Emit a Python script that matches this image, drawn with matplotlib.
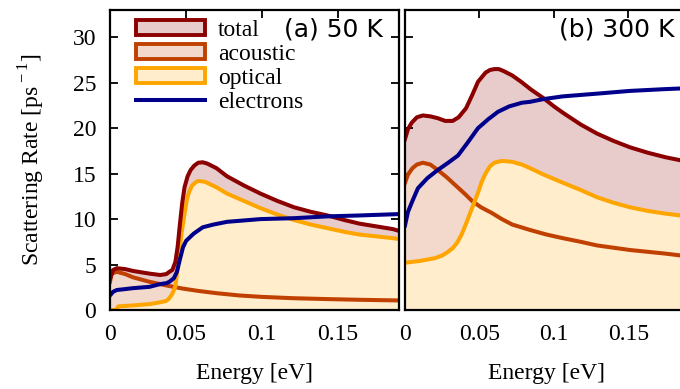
import matplotlib
matplotlib.use("Agg")
import matplotlib.pyplot as plt
from matplotlib.patches import Patch
from matplotlib.lines import Line2D

# ── data ──────────────────────────────────────────────────────────────────────
# (a) 50 K
a_total_x = [0, 0.002, 0.0045, 0.01, 0.015, 0.026, 0.033, 0.037, 0.039, 0.041, 0.043,
             0.0445, 0.046, 0.0475, 0.049, 0.051, 0.053, 0.0555, 0.058, 0.061, 0.064,
             0.07, 0.077, 0.088, 0.099, 0.11, 0.121, 0.132, 0.143, 0.154, 0.164,
             0.175, 0.186, 0.19]
a_total_y = [3.4, 4.4, 4.6, 4.5, 4.3, 4.0, 3.85, 3.95, 4.2, 4.4, 5.3,
             7.0, 9.5, 11.8, 13.5, 14.7, 15.4, 15.9, 16.2, 16.25, 16.1,
             15.6, 14.7, 13.7, 12.8, 12.0, 11.3, 10.8, 10.4, 9.9, 9.5,
             9.2, 8.9, 8.7]

a_opt_x = [0, 0.004, 0.0055, 0.01, 0.015, 0.026, 0.033, 0.037, 0.039, 0.041, 0.043,
           0.044, 0.0455, 0.047, 0.049, 0.0505, 0.052, 0.054, 0.056, 0.058, 0.0625,
           0.07, 0.077, 0.088, 0.099, 0.11, 0.121, 0.132, 0.143, 0.154, 0.164,
           0.175, 0.186, 0.19]
a_opt_y = [0, 0, 0.4, 0.45, 0.5, 0.65, 0.85, 1.0, 1.3, 1.8, 2.6,
           4.0, 6.3, 8.4, 10.6, 12.1, 13.0, 13.7, 14.0, 14.2, 14.1,
           13.5, 12.8, 12.0, 11.2, 10.5, 9.9, 9.4, 9.0, 8.6, 8.3,
           8.1, 7.9, 7.8]

a_ac_x = [0, 0.001, 0.0045, 0.01, 0.015, 0.026, 0.037, 0.048, 0.058, 0.07, 0.085,
          0.099, 0.12, 0.143, 0.165, 0.19]
a_ac_y = [3.1, 4.0, 4.2, 3.95, 3.6, 3.1, 2.7, 2.35, 2.1, 1.85, 1.6,
          1.45, 1.3, 1.2, 1.12, 1.05]

a_el_x = [0, 0.002, 0.0045, 0.01, 0.015, 0.026, 0.033, 0.037, 0.039, 0.042, 0.044,
          0.046, 0.048, 0.05, 0.055, 0.061, 0.068, 0.077, 0.088, 0.099, 0.121,
          0.143, 0.164, 0.19]
a_el_y = [1.6, 2.0, 2.2, 2.3, 2.4, 2.55, 2.85, 2.95, 3.1, 3.5, 4.2,
          5.6, 6.9, 7.6, 8.4, 9.1, 9.4, 9.7, 9.85, 10.0, 10.1,
          10.3, 10.4, 10.55]

# (b) 300 K
b_total_x = [0, 0.002, 0.0045, 0.008, 0.012, 0.017, 0.022, 0.027, 0.032, 0.036, 0.041,
             0.045, 0.049, 0.054, 0.057, 0.06, 0.063, 0.066, 0.072, 0.078, 0.085,
             0.093, 0.1, 0.106, 0.118, 0.129, 0.14, 0.151, 0.163, 0.175, 0.19]
b_total_y = [18.8, 19.9, 20.6, 21.2, 21.4, 21.3, 21.1, 20.8, 20.8, 21.2, 22.2,
             23.6, 25.1, 26.1, 26.4, 26.5, 26.5, 26.3, 25.8, 25.1, 24.2,
             23.3, 22.4, 21.7, 20.4, 19.4, 18.6, 17.9, 17.3, 16.8, 16.3]

b_opt_x = [0, 0.01, 0.02, 0.025, 0.028, 0.032, 0.035, 0.038, 0.041, 0.045, 0.049,
           0.0515, 0.054, 0.057, 0.06, 0.065, 0.072, 0.0785, 0.084, 0.093, 0.106,
           0.118, 0.129, 0.14, 0.151, 0.163, 0.175, 0.19]
b_opt_y = [5.2, 5.4, 5.7, 6.0, 6.3, 6.8, 7.4, 8.3, 9.5, 11.2, 12.9,
           14.1, 15.0, 15.8, 16.2, 16.4, 16.3, 16.0, 15.6, 14.9, 14.0,
           13.2, 12.4, 11.8, 11.3, 10.9, 10.6, 10.3]

b_ac_x = [0, 0.002, 0.005, 0.008, 0.012, 0.017, 0.022, 0.028, 0.034, 0.04, 0.045,
          0.051, 0.058, 0.065, 0.072, 0.084, 0.095, 0.106, 0.118, 0.129, 0.14,
          0.151, 0.163, 0.175, 0.19]
b_ac_y = [14.0, 14.9, 15.6, 16.0, 16.2, 16.0, 15.4, 14.6, 13.7, 12.8, 12.0,
          11.3, 10.7, 10.0, 9.4, 8.8, 8.3, 7.9, 7.5, 7.1, 6.85,
          6.6, 6.4, 6.2, 5.9]

b_el_x = [0, 0.002, 0.005, 0.0087, 0.015, 0.022, 0.029, 0.0356, 0.042, 0.049, 0.056,
          0.0624, 0.07, 0.0785, 0.084, 0.093, 0.106, 0.129, 0.151, 0.175, 0.19]
b_el_y = [9.3, 10.8, 12.0, 13.4, 14.5, 15.4, 16.2, 17.0, 18.4, 20.0, 21.0,
          21.8, 22.4, 22.8, 22.9, 23.2, 23.5, 23.8, 24.1, 24.3, 24.4]

labels = ["total", "acoustic", "optical", "electrons"]
panel_titles = ["(a) 50 K", "(b) 300 K"]
xticks = [0, 0.05, 0.1, 0.15]
xticklabels = ["0", "0.05", "0.1", "0.15"]
yticks = [0, 5, 10, 15, 20, 25, 30]

# ── style ─────────────────────────────────────────────────────────────────────
C_TOT, C_AC, C_OPT, C_EL = "#8b0000", "#c04000", "#ffa500", "#00008b"
F_TOT, F_AC, F_OPT = "#e8cccc", "#f2d9cc", "#ffedcc"
LW = 2.9

plt.rcParams["font.family"] = ["Liberation Serif", "DejaVu Serif"]
plt.rcParams["mathtext.fontset"] = "custom"
plt.rcParams["mathtext.rm"] = "Liberation Serif"
plt.rcParams["font.size"] = 17

fig = plt.figure(figsize=(6.8, 3.89), dpi=100)
ax_a = fig.add_axes([110 / 680, 1 - 310 / 389, 289 / 680, 300 / 389])
ax_b = fig.add_axes([405 / 680, 1 - 310 / 389, 283 / 680, 300 / 389])


def draw_panel(ax, tx, ty, ox, oy, acx, acy, ex, ey, title, title_x):
    ax.fill_between(tx, 0, ty, color=F_TOT, lw=0, zorder=1)
    ax.fill_between(acx, 0, acy, color=F_AC, lw=0, zorder=2)
    ax.fill_between(ox, 0, oy, color=F_OPT, lw=0, zorder=3)
    ax.plot(acx, acy, color=C_AC, lw=LW, zorder=4, solid_joinstyle="round")
    ax.plot(ox, oy, color=C_OPT, lw=LW, zorder=5, solid_joinstyle="round")
    ax.plot(tx, ty, color=C_TOT, lw=LW, zorder=6, solid_joinstyle="round")
    ax.plot(ex, ey, color=C_EL, lw=LW, zorder=7, solid_joinstyle="round")
    ax.set_xlim(0, 0.19)
    ax.set_ylim(0, 33)
    ax.set_xticks(xticks)
    ax.set_xticklabels(xticklabels)
    ax.set_yticks(yticks)
    ax.tick_params(direction="in", top=True, right=True, length=6, width=1.3,
                   pad=10)
    for s in ax.spines.values():
        s.set_linewidth(1.6)
        s.set_zorder(10)
    ax.set_xlabel("Energy [eV]", labelpad=13)
    ax.text(title_x, 0.935, title, transform=ax.transAxes, ha="right", va="center",
            family="DejaVu Sans", fontsize=18, zorder=11)


draw_panel(ax_a, a_total_x, a_total_y, a_opt_x, a_opt_y, a_ac_x, a_ac_y,
           a_el_x, a_el_y, panel_titles[0], 0.945)
draw_panel(ax_b, b_total_x, b_total_y, b_opt_x, b_opt_y, b_ac_x, b_ac_y,
           b_el_x, b_el_y, panel_titles[1], 0.954)

ax_a.set_ylabel("Scattering Rate [ps$^{\\rm -1}$]", labelpad=18)
ax_b.tick_params(labelleft=False)

handles = [
    Patch(facecolor=F_TOT, edgecolor=C_TOT, lw=2.8),
    Patch(facecolor=F_AC, edgecolor=C_AC, lw=2.8),
    Patch(facecolor=F_OPT, edgecolor=C_OPT, lw=2.8),
    Line2D([], [], color=C_EL, lw=LW),
]
ax_a.legend(handles, labels, loc="upper left", bbox_to_anchor=(0.05, 1.005),
            frameon=False, borderpad=0, handlelength=2.9, handleheight=0.6,
            handletextpad=0.55, labelspacing=0.12, fontsize=17)

fig.savefig("out.png", dpi=100)
